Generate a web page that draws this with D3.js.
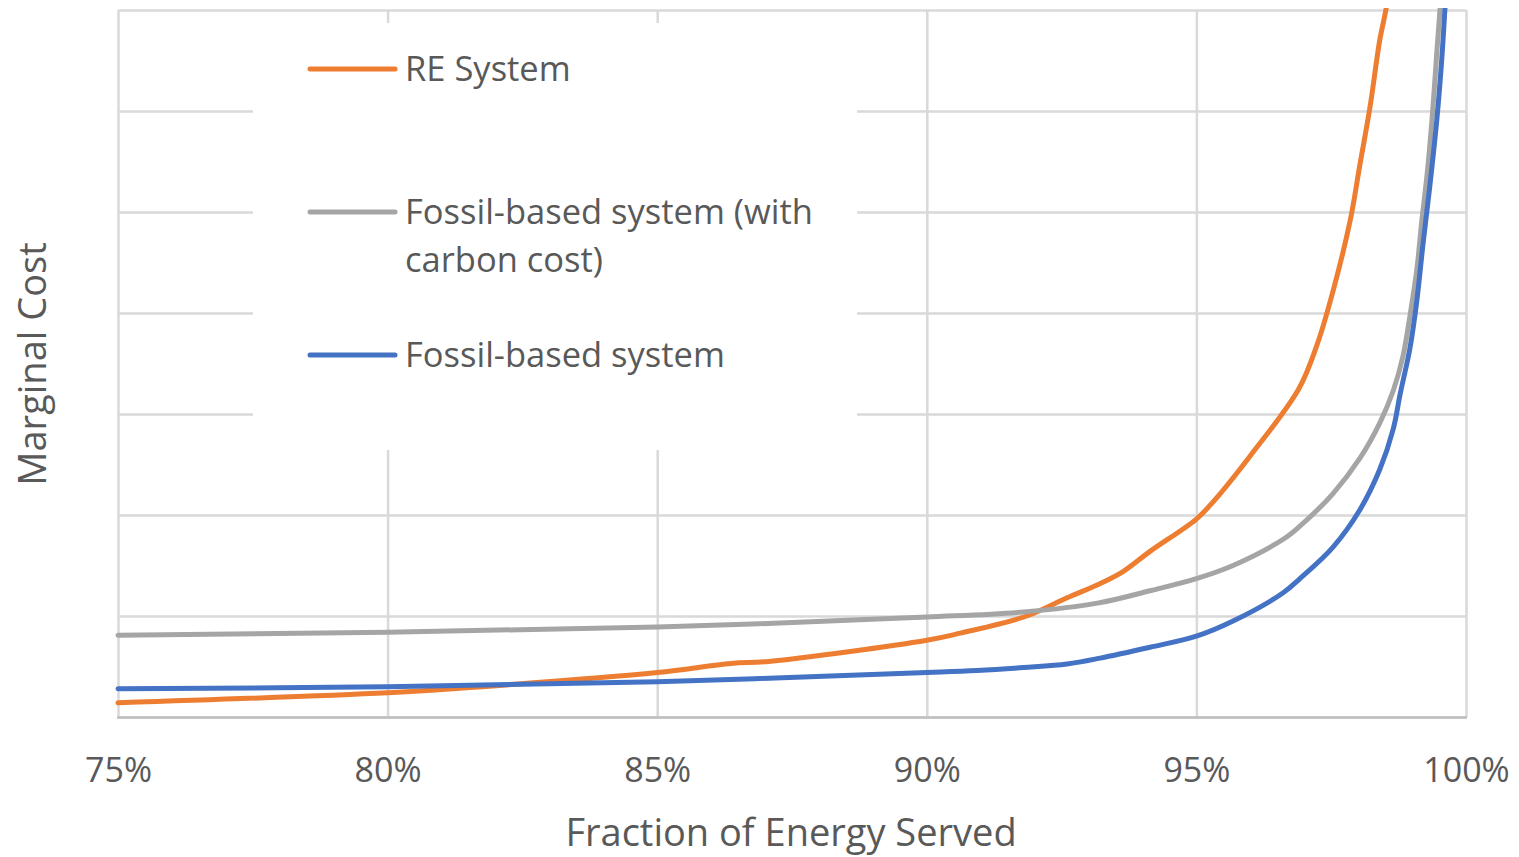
<!DOCTYPE html>
<html>
<head>
<meta charset="utf-8">
<script src="https://cdn.jsdelivr.net/npm/d3@7"></script>
<style>
  html, body { margin: 0; padding: 0; background: #ffffff; }
  svg { display: block; }
  text { font-family: "Open Sans", "DejaVu Sans", sans-serif; fill: #595959; }
</style>
</head>
<body>
<svg id="chart" width="1519" height="857"></svg>
<script>
// ---- Data (x = fraction of energy served, %; y = marginal cost, relative units) ----
const xTicks = [75, 80, 85, 90, 95, 100];
const yTicks = [0, 1, 2, 3, 4, 5, 6, 7];

const reX = [75, 80, 81.75, 85, 86.37, 87.07, 90, 90.62, 91.8, 92.6, 93.21, 93.64, 94.14, 95.0, 95.31, 95.99, 96.9, 97.24, 97.53, 97.85, 98.03, 98.22, 98.40, 98.52, 98.58];
const reY = [0.14, 0.24, 0.30, 0.44, 0.53, 0.55, 0.76, 0.83, 0.99, 1.18, 1.32, 1.44, 1.64, 1.96, 2.13, 2.58, 3.25, 3.69, 4.21, 4.91, 5.46, 6.04, 6.70, 7.02, 7.30];

const carbonX = [75, 80, 85, 90, 91.8, 93.19, 94.14, 95.0, 95.68, 96.61, 96.92, 97.53, 98.03, 98.40, 98.65, 98.83, 98.96, 99.09, 99.18, 99.28, 99.37, 99.46, 99.52, 99.56];
const carbonY = [0.81, 0.84, 0.89, 0.99, 1.04, 1.13, 1.25, 1.37, 1.50, 1.76, 1.89, 2.21, 2.56, 2.91, 3.23, 3.57, 3.97, 4.44, 4.91, 5.38, 5.92, 6.59, 7.02, 7.30];

const fossilX = [75, 80, 85, 90, 90.93, 91.8, 92.6, 93.19, 94.14, 95.0, 95.68, 96.61, 96.92, 97.53, 98.03, 98.40, 98.65, 98.78, 98.96, 99.09, 99.20, 99.33, 99.46, 99.55, 99.61, 99.65];
const fossilY = [0.28, 0.30, 0.35, 0.44, 0.46, 0.49, 0.525, 0.58, 0.69, 0.80, 0.95, 1.23, 1.37, 1.68, 2.05, 2.45, 2.85, 3.20, 3.65, 4.13, 4.67, 5.26, 5.92, 6.51, 7.02, 7.40];

const seriesNames = ["RE System", "Fossil-based system (with carbon cost)", "Fossil-based system"];
const legendLines = [["RE System"], ["Fossil-based system (with", "carbon cost)"], ["Fossil-based system"]];
const seriesColors = ["#ED7D31", "#A5A5A5", "#4472C4"];

// ---- Layout ----
const svg = d3.select("#chart");
const pLeft = 118, pRight = 1466, pTop = 10, pBottom = 717;

const x = d3.scaleLinear().domain([75, 100]).range([pLeft, pRight]);
const y = d3.scaleLinear().domain([0, 7]).range([pBottom, pTop]);

// Horizontal gridlines
svg.append("g")
  .attr("transform", `translate(${pLeft},0)`)
  .call(d3.axisLeft(y).tickValues(yTicks).tickSize(-(pRight - pLeft)).tickFormat(""))
  .call(g => g.select(".domain").remove())
  .call(g => g.selectAll("line").attr("stroke", "#d9d9d9").attr("stroke-width", 2.5));

// Vertical gridlines
svg.append("g")
  .attr("transform", `translate(0,${pBottom})`)
  .call(d3.axisBottom(x).tickValues(xTicks).tickSize(-(pBottom - pTop)).tickFormat(""))
  .call(g => g.select(".domain").remove())
  .call(g => g.selectAll("line").attr("stroke", "#d9d9d9").attr("stroke-width", 2.5));

// Bottom axis line
svg.append("line")
  .attr("x1", pLeft - 1).attr("x2", pRight + 1)
  .attr("y1", y(0) + 0.5).attr("y2", y(0) + 0.5)
  .attr("stroke", "#bfbfbf").attr("stroke-width", 2.5);

// X tick labels
svg.append("g")
  .attr("transform", `translate(0,${pBottom})`)
  .call(d3.axisBottom(x).tickValues(xTicks).tickSize(0).tickPadding(0).tickFormat(d => d + "%"))
  .call(g => g.select(".domain").remove())
  .call(g => g.selectAll("text")
    .attr("dy", null)
    .attr("y", 65)
    .style("font-family", "'Open Sans', sans-serif")
    .style("font-size", "34px")
    .attr("fill", "#595959"));

// Legend background (covers gridlines)
svg.append("rect")
  .attr("x", 253).attr("y", 23).attr("width", 604).attr("height", 427)
  .attr("fill", "#ffffff");

// Clip for series
svg.append("clipPath").attr("id", "plotclip")
  .append("rect").attr("x", pLeft - 5).attr("y", pTop - 2).attr("width", pRight - pLeft + 10).attr("height", pBottom - pTop + 10);

const line = d3.line().x(d => x(d[0])).y(d => y(d[1])).curve(d3.curveCatmullRom.alpha(0.5));
const allSeries = [
  d3.zip(reX, reY),
  d3.zip(carbonX, carbonY),
  d3.zip(fossilX, fossilY)
];
svg.append("g").attr("clip-path", "url(#plotclip)")
  .selectAll("path")
  .data(allSeries)
  .join("path")
  .attr("d", line)
  .attr("fill", "none")
  .attr("stroke", (d, i) => seriesColors[i])
  .attr("stroke-width", 5)
  .attr("stroke-linejoin", "round")
  .attr("stroke-linecap", "round");

// Legend
const legendY = [69, 212, 355];
const lg = svg.append("g");
seriesNames.forEach((name, i) => {
  lg.append("line")
    .attr("x1", 310).attr("x2", 395)
    .attr("y1", legendY[i]).attr("y2", legendY[i])
    .attr("stroke", seriesColors[i]).attr("stroke-width", 5)
    .attr("stroke-linecap", "round");
  const t = lg.append("text")
    .attr("x", 405).attr("y", legendY[i] + 12)
    .style("font-size", "34.5px");
  legendLines[i].forEach((s, j) => {
    t.append("tspan").attr("x", 405).attr("dy", j === 0 ? 0 : 48).text(s);
  });
});

// Axis titles
svg.append("text")
  .attr("x", 791).attr("y", 846)
  .attr("text-anchor", "middle")
  .style("font-size", "38px")
  .text("Fraction of Energy Served");

svg.append("text")
  .attr("transform", "translate(46,364) rotate(-90)")
  .attr("text-anchor", "middle")
  .style("font-size", "38px")
  .text("Marginal Cost");
</script>
</body>
</html>
